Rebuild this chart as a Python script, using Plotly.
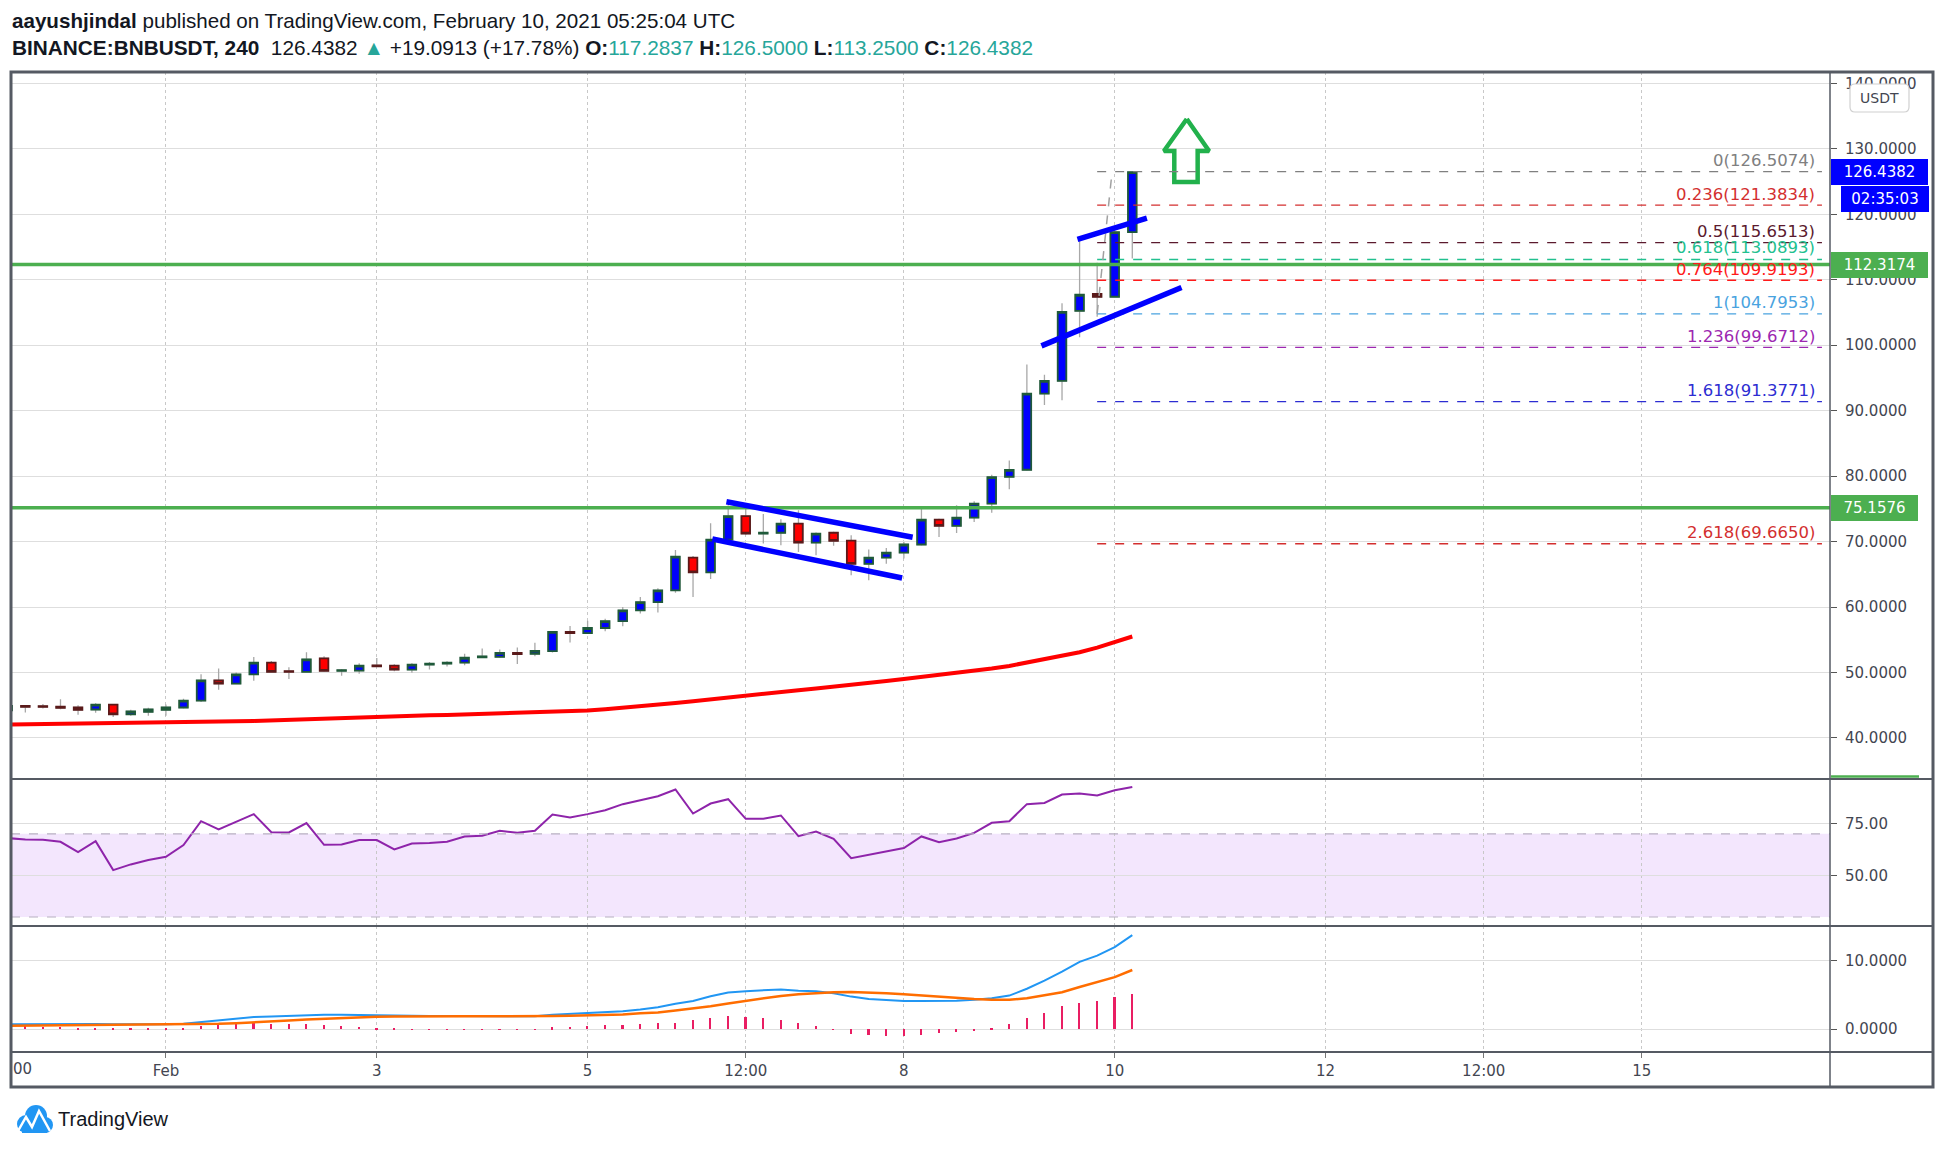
import pandas as pd
import plotly.graph_objects as go

# ---------------- data ----------------
START = pd.Timestamp("2021-01-30 12:00")   # first 4h bar
BAR_HOURS = 4

open_ = [44.2, 44.9, 44.85, 44.8, 44.65, 44.35, 45.1, 43.6, 44.0, 44.3,
         44.65, 45.7, 48.8, 48.3, 49.7, 51.5, 50.2, 50.1, 52.15, 50.25,
         50.3, 51.1, 51.05, 50.45, 51.2, 51.35, 51.5, 52.3, 52.4, 53.0,
         52.85, 53.25, 56.2, 56.0, 56.8, 57.85, 59.5, 60.75, 62.55, 67.55,
         65.3, 70.3, 73.9, 71.2, 71.35, 72.75, 69.85, 71.35, 70.15, 66.6,
         67.55, 68.3, 69.55, 73.35, 72.4, 73.65, 75.8, 79.9, 80.97, 92.6,
         94.55, 105.25, 107.85, 107.4, 117.2837]
high_ = [45.2, 45.0, 45.2, 45.9, 45.0, 45.3, 45.2, 44.3, 44.6, 45.1,
         46.0, 49.75, 50.6, 50.0, 52.35, 51.75, 50.8, 53.1, 52.5, 50.55,
         51.4, 52.2, 51.25, 51.4, 51.6, 51.7, 52.85, 53.65, 53.5, 53.8,
         54.55, 56.3, 57.1, 57.9, 58.2, 60.0, 61.55, 62.85, 68.7, 67.8,
         72.8, 75.55, 75.3, 74.2, 73.4, 74.8, 71.4, 71.5, 70.95, 68.8,
         69.0, 69.95, 75.05, 73.5, 75.55, 76.15, 80.2, 82.4, 97.05, 95.5,
         106.4, 116.25, 112.6, 117.5, 126.5]
low_ = [43.8, 43.9, 44.5, 44.4, 43.55, 43.85, 43.2, 43.4, 43.4, 43.4,
        44.5, 45.5, 47.35, 48.2, 48.75, 50.0, 49.0, 50.0, 50.1, 49.5,
        49.8, 50.9, 50.2, 49.95, 50.45, 50.9, 51.1, 52.2, 52.25, 51.3,
        52.5, 53.05, 54.6, 55.9, 56.3, 57.05, 59.0, 59.15, 62.2, 61.55,
        64.3, 70.1, 71.0, 69.7, 69.45, 68.4, 67.9, 69.35, 64.85, 64.1,
        66.6, 67.4, 69.4, 70.7, 71.3, 73.0, 74.4, 78.0, 80.8, 90.85,
        91.6, 101.2, 104.35, 107.3, 113.25]
close_ = [44.9, 44.75, 44.75, 44.6, 44.3, 45.1, 43.6, 44.05, 44.35, 44.65,
          45.7, 48.8, 48.3, 49.7, 51.5, 50.1, 50.1, 52.0, 50.25, 50.35,
          51.05, 50.95, 50.45, 51.2, 51.35, 51.5, 52.25, 52.45, 53.0, 52.8,
          53.3, 56.2, 56.0, 56.8, 57.85, 59.5, 60.75, 62.55, 67.7, 65.3,
          70.3, 73.9, 71.2, 71.35, 72.75, 69.85, 71.2, 70.1, 66.6, 67.55,
          68.3, 69.55, 73.35, 72.4, 73.65, 75.8, 79.85, 80.95, 92.6, 94.55,
          105.1, 107.7, 107.4, 117.2837, 126.4382]
ma = [42.05, 42.08, 42.10, 42.12, 42.15, 42.18, 42.20, 42.25, 42.30, 42.35,
      42.40, 42.45, 42.50, 42.55, 42.60, 42.70, 42.75, 42.85, 42.90, 43.00,
      43.10, 43.20, 43.30, 43.35, 43.45, 43.50, 43.60, 43.65, 43.70, 43.78,
      43.85, 43.95, 44.05, 44.20, 44.40, 44.60, 44.85, 45.10, 45.35, 45.60,
      45.90, 46.20, 46.50, 46.80, 47.05, 47.30, 47.55, 47.80, 48.10, 48.40,
      48.70, 49.00, 49.30, 49.60, 49.90, 50.25, 50.60, 51.00, 51.50, 52.00,
      52.50, 53.10, 53.80, 54.60, 55.50]
rsi = [67.95, 67.3, 67.15, 66.2, 61.2, 66.5, 52.55, 55.3, 57.4, 59.0,
       64.6, 76.1, 72.1, 75.8, 79.5, 70.8, 70.7, 75.2, 64.75, 64.9,
       67.0, 67.0, 62.5, 65.4, 65.55, 66.2, 68.75, 69.1, 71.5, 70.5,
       71.5, 79.3, 77.9, 79.5, 81.4, 84.3, 86.2, 88.1, 91.35, 79.8,
       84.6, 86.7, 77.25, 77.25, 78.85, 68.9, 71.15, 67.6, 58.3, 59.9,
       61.2, 63.15, 68.75, 66.0, 67.8, 70.5, 75.3, 76.1, 84.3, 84.9,
       88.9, 89.4, 88.5, 91.0, 92.6]
macd = [0.70, 0.72, 0.74, 0.76, 0.76, 0.75, 0.70, 0.68, 0.68, 0.70,
        0.76, 0.98, 1.20, 1.45, 1.75, 1.85, 1.95, 2.10, 2.10, 2.08,
        2.07, 2.05, 2.00, 1.95, 1.92, 1.90, 1.88, 1.87, 1.86, 1.85,
        1.88, 2.10, 2.20, 2.35, 2.45, 2.60, 2.85, 3.20, 3.70, 4.10,
        4.80, 5.35, 5.55, 5.70, 5.80, 5.60, 5.55, 5.25, 4.75, 4.40,
        4.20, 4.10, 4.10, 4.08, 4.15, 4.30, 4.50, 4.90, 5.90, 7.10,
        8.40, 9.85, 10.75, 12.00, 13.76]
signal = [0.48, 0.50, 0.52, 0.54, 0.56, 0.58, 0.60, 0.60, 0.61, 0.62,
          0.63, 0.68, 0.76, 0.85, 0.95, 1.10, 1.25, 1.40, 1.52, 1.63,
          1.73, 1.80, 1.85, 1.88, 1.89, 1.89, 1.88, 1.87, 1.86, 1.86,
          1.86, 1.90, 1.95, 2.00, 2.05, 2.12, 2.30, 2.43, 2.70, 3.00,
          3.35, 3.75, 4.15, 4.55, 4.85, 5.10, 5.25, 5.40, 5.42, 5.38,
          5.25, 5.10, 4.90, 4.72, 4.55, 4.40, 4.30, 4.30, 4.50, 4.90,
          5.40, 6.15, 6.90, 7.60, 8.65]
hist = [0.30, 0.40, 0.30, 0.30, 0.15, 0.10, 0.05, 0.03, 0.02, 0.05,
        0.15, 0.38, 0.52, 0.70, 0.86, 0.80, 0.76, 0.76, 0.60, 0.48,
        0.33, 0.20, 0.05, -0.05, -0.10, -0.12, -0.14, -0.14, -0.12, -0.10,
        -0.05, 0.29, 0.35, 0.42, 0.52, 0.62, 0.76, 0.90, 0.95, 1.33,
        1.67, 1.90, 1.81, 1.55, 1.33, 0.95, 0.50, -0.10, -0.67, -0.95,
        -1.05, -1.00, -0.86, -0.62, -0.48, -0.19, 0.20, 0.76, 1.67, 2.38,
        3.33, 3.75, 4.10, 4.62, 5.14]

FIB_RATIOS = ["0", "0.236", "0.5", "0.618", "0.764", "1", "1.236", "1.618", "2.618"]
FIB_PRICES = [126.5074, 121.3834, 115.6513, 113.0893, 109.9193, 104.7953, 99.6712, 91.3771, 69.6650]
FIB_COLORS = ["#808080", "#d32f2f", "#5b1a2e", "#22c08f", "#ff1a1a", "#4aa3df", "#9c27b0", "#2d2dd2", "#d32f2f"]
FIB_START_BAR = 62
FIB_DIAG = [(62, 104.7953), (62.85, 126.5074)]

H_LEVELS = [112.3174, 75.1576]
LAST_PRICE = 126.4382
COUNTDOWN = "02:35:03"

# hand-drawn trend lines: (bar index, price) pairs
TRENDLINES = [
    [(40.9, 76.09), (51.5, 70.65)],
    [(40.1, 70.39), (50.9, 64.43)],
    [(58.83, 99.89), (66.8, 108.8)],
    [(60.88, 116.17), (64.83, 119.4)],
]
ARROW = [(67.1, 134.55), (68.37, 129.66), (67.72, 129.66), (67.72, 124.93),
         (66.39, 124.93), (66.39, 129.66), (65.8, 129.66), (67.1, 134.55)]

X_TICK_TIMES = ["2021-01-30 12:00", "2021-02-01", "2021-02-03", "2021-02-05", "2021-02-06 12:00",
                "2021-02-08", "2021-02-10", "2021-02-12", "2021-02-13 12:00", "2021-02-15"]
X_TICK_TEXT = ["12:00", "Feb", "3", "5", "12:00", "8", "10", "12", "12:00", "15"]
X_RANGE = ["2021-01-30 12:44", "2021-02-16 18:50"]

# ---------------- helpers ----------------
def t(i):
    return START + pd.Timedelta(hours=BAR_HOURS * i)

times = [t(k) for k in range(len(close_))]

def px(x):
    return (x - 11) / 1819.0

def py(y):
    return (1052 - y) / 980.0

AXFONT = dict(family="DejaVu Sans", size=15, color="#434651")
UP_FILL, DOWN_FILL = "#0000ff", "#ff0000"
UP_LINE, DOWN_LINE = "#1f5a3a", "#5a1a1a"
WICK = "#a8a8a8"
BORDER = "#555a63"

fig = go.Figure()

# wicks
fig.add_trace(go.Candlestick(
    x=times, open=open_, high=high_, low=low_, close=close_,
    increasing=dict(line=dict(color=WICK, width=1.3), fillcolor=UP_FILL),
    decreasing=dict(line=dict(color=WICK, width=1.3), fillcolor=DOWN_FILL),
    xaxis="x", yaxis="y", showlegend=False, hoverinfo="skip"))
# bodies
body_hi = [max(o, c) for o, c in zip(open_, close_)]
body_lo = [min(o, c) for o, c in zip(open_, close_)]
fig.add_trace(go.Candlestick(
    x=times, open=open_, high=body_hi, low=body_lo, close=close_,
    increasing=dict(line=dict(color=UP_LINE, width=1.8), fillcolor=UP_FILL),
    decreasing=dict(line=dict(color=DOWN_LINE, width=1.8), fillcolor=DOWN_FILL),
    xaxis="x", yaxis="y", showlegend=False, hoverinfo="skip"))

fig.add_trace(go.Scatter(x=times, y=ma, mode="lines", line=dict(color="#ff0000", width=4),
                         xaxis="x", yaxis="y", showlegend=False, hoverinfo="skip"))

fig.add_trace(go.Scatter(x=[t(a) for a, _ in ARROW], y=[b for _, b in ARROW], mode="lines",
                         line=dict(color="#22b14c", width=4.5), xaxis="x", yaxis="y",
                         showlegend=False, hoverinfo="skip"))

fig.add_trace(go.Scatter(x=times, y=rsi, mode="lines", line=dict(color="#8e24aa", width=2),
                         xaxis="x2", yaxis="y2", showlegend=False, hoverinfo="skip"))

fig.add_trace(go.Bar(x=times, y=hist, marker=dict(color="#e91e63", line=dict(width=0)),
                     width=1.3e6, xaxis="x3", yaxis="y3", showlegend=False, hoverinfo="skip"))
fig.add_trace(go.Scatter(x=times, y=macd, mode="lines", line=dict(color="#2196f3", width=2),
                         xaxis="x3", yaxis="y3", showlegend=False, hoverinfo="skip"))
fig.add_trace(go.Scatter(x=times, y=signal, mode="lines", line=dict(color="#ff6d00", width=2.5),
                         xaxis="x3", yaxis="y3", showlegend=False, hoverinfo="skip"))

shapes = []
# RSI band
shapes.append(dict(type="rect", xref="paper", yref="y2", x0=0, x1=1, y0=30, y1=70,
                   fillcolor="#f3e6fd", line=dict(width=0), layer="below"))
for lv in (70, 30):
    shapes.append(dict(type="line", xref="paper", yref="y2", x0=0, x1=1, y0=lv, y1=lv,
                       line=dict(color="#b8b0c2", width=1.2, dash="dash")))
# fib levels
fib_end = "2021-02-16 17:00"
for price, col in zip(FIB_PRICES, FIB_COLORS):
    shapes.append(dict(type="line", xref="x", yref="y", x0=t(FIB_START_BAR), x1=fib_end,
                       y0=price, y1=price, line=dict(color=col, width=1.3, dash="dash")))
shapes.append(dict(type="line", xref="x", yref="y", x0=t(FIB_DIAG[0][0]), y0=FIB_DIAG[0][1],
                   x1=t(FIB_DIAG[1][0]), y1=FIB_DIAG[1][1],
                   line=dict(color="#a0a0a0", width=1.5, dash="dash")))
# green horizontal levels
for lv in H_LEVELS:
    shapes.append(dict(type="line", xref="paper", yref="y", x0=0, x1=1, y0=lv, y1=lv,
                       line=dict(color="#4caf50", width=3.5)))
# trend lines
for (a0, p0), (a1, p1) in TRENDLINES:
    shapes.append(dict(type="line", xref="x", yref="y", x0=t(a0), y0=p0, x1=t(a1), y1=p1,
                       line=dict(color="#0000ff", width=5.5)))
# frame
shapes.append(dict(type="rect", xref="paper", yref="paper", x0=px(11), x1=px(1933),
                   y0=py(1087), y1=py(72), line=dict(color=BORDER, width=3)))
for yy in (779, 926, 1052):
    shapes.append(dict(type="line", xref="paper", yref="paper", x0=px(11), x1=px(1933),
                       y0=py(yy), y1=py(yy), line=dict(color=BORDER, width=2)))
shapes.append(dict(type="line", xref="paper", yref="paper", x0=px(1830), x1=px(1830),
                   y0=py(1087), y1=py(72), line=dict(color=BORDER, width=1.5)))
shapes.append(dict(type="line", xref="paper", yref="paper", x0=px(1831), x1=px(1919),
                   y0=py(776.5), y1=py(776.5), line=dict(color="#4caf50", width=2.5)))


def rounded_rect(x0, y0, x1, y1, r):
    pts = [
        f"M {px(x0 + r):.5f},{py(y0):.5f}",
        f"L {px(x1 - r):.5f},{py(y0):.5f}",
        f"Q {px(x1):.5f},{py(y0):.5f} {px(x1):.5f},{py(y0 + r):.5f}",
        f"L {px(x1):.5f},{py(y1 - r):.5f}",
        f"Q {px(x1):.5f},{py(y1):.5f} {px(x1 - r):.5f},{py(y1):.5f}",
        f"L {px(x0 + r):.5f},{py(y1):.5f}",
        f"Q {px(x0):.5f},{py(y1):.5f} {px(x0):.5f},{py(y1 - r):.5f}",
        f"L {px(x0):.5f},{py(y0 + r):.5f}",
        f"Q {px(x0):.5f},{py(y0):.5f} {px(x0 + r):.5f},{py(y0):.5f}",
        "Z",
    ]
    return " ".join(pts)


# TradingView logo icon
for (cx, cy, r) in [(26, 1124, 9), (36, 1116, 11), (45, 1125, 8)]:
    shapes.append(dict(type="circle", xref="paper", yref="paper", x0=px(cx - r), x1=px(cx + r),
                       y0=py(cy + r), y1=py(cy - r), fillcolor="#2196f3", line=dict(width=0)))
shapes.append(dict(type="rect", xref="paper", yref="paper", x0=px(22), x1=px(47),
                   y0=py(1133), y1=py(1120), fillcolor="#2196f3", line=dict(width=0)))
zig = [(18, 1131), (26, 1117), (32, 1127), (39, 1111), (50, 1131)]
path = "M " + " L ".join(f"{px(a):.5f},{py(b):.5f}" for a, b in zig)
shapes.append(dict(type="path", xref="paper", yref="paper", path=path,
                   line=dict(color="white", width=2.5)))

annotations = []
HDR = "Liberation Sans"
TEAL = "#26a69a"
annotations.append(dict(xref="paper", yref="paper", x=px(10), y=py(21), xanchor="left", yanchor="middle",
                        showarrow=False, font=dict(family=HDR, size=20.6, color="#131722"),
                        text="<b>aayushjindal</b> published on TradingView.com, February 10, 2021 05:25:04 UTC"))
line2 = ("<b>BINANCE:BNBUSDT, 240</b>&nbsp; 126.4382 "
         f"<span style='color:{TEAL}'>▲</span> +19.0913 (+17.78%) "
         f"<b>O:</b><span style='color:{TEAL}'>117.2837</span> "
         f"<b>H:</b><span style='color:{TEAL}'>126.5000</span> "
         f"<b>L:</b><span style='color:{TEAL}'>113.2500</span> "
         f"<b>C:</b><span style='color:{TEAL}'>126.4382</span>")
annotations.append(dict(xref="paper", yref="paper", x=px(10), y=py(48), xanchor="left", yanchor="middle",
                        showarrow=False, font=dict(family=HDR, size=20.8, color="#131722"), text=line2))
# fib labels (text sits just above each dashed level)
for ratio, price, col in zip(FIB_RATIOS, FIB_PRICES, FIB_COLORS):
    annotations.append(dict(xref="paper", yref="y", x=px(1816), y=price, xanchor="right", yanchor="middle",
                            yshift=11 if ratio != "0.618" else 12,
                            showarrow=False, borderpad=0,
                            font=dict(family="DejaVu Sans", size=16.5, color=col),
                            text=f"{ratio}({price:.4f})"))
# axis price labels
LBL = dict(family="DejaVu Sans", size=15, color="white")
annotations.append(dict(xref="paper", yref="y", x=px(1831), y=LAST_PRICE, xanchor="left", yanchor="middle",
                        showarrow=False, bgcolor="#0000ff", font=LBL, text=f"{LAST_PRICE:.4f}",
                        width=91, height=20, borderpad=3, borderwidth=0))
annotations.append(dict(xref="paper", yref="y", x=px(1841), y=LAST_PRICE, yshift=-27, xanchor="left",
                        yanchor="middle", showarrow=False, bgcolor="#0000ff", font=LBL, text=COUNTDOWN,
                        width=82, height=20, borderpad=3, borderwidth=0))
for lv in H_LEVELS:
    txt = f"{lv:.4f}"
    annotations.append(dict(xref="paper", yref="y", x=px(1831), y=lv, xanchor="left", yanchor="middle",
                            showarrow=False, bgcolor="#4caf50", font=LBL, text=txt,
                            width=(91 if len(txt) > 7 else 81), height=20, borderpad=3, borderwidth=0))
# USDT badge
shapes.append(dict(type="path", xref="paper", yref="paper", path=rounded_rect(1850, 84, 1909, 112, 5),
                   fillcolor="white", line=dict(color="#d0d0d0", width=1.2)))
annotations.append(dict(xref="paper", yref="paper", x=px(1879.5), y=py(98), xanchor="center", yanchor="middle",
                        showarrow=False, font=dict(family="DejaVu Sans", size=14, color="#434651"),
                        text="USDT"))
annotations.append(dict(xref="paper", yref="paper", x=px(11), y=py(1069), xanchor="left", yanchor="middle",
                        showarrow=False, font=AXFONT, text="00"))
annotations.append(dict(xref="paper", yref="paper", x=px(56), y=py(1119), xanchor="left", yanchor="middle",
                        showarrow=False, font=dict(family="Liberation Sans", size=20, color="#131722"),
                        text="TradingView"))

common_x = dict(range=X_RANGE, type="date", tickvals=X_TICK_TIMES, ticktext=X_TICK_TEXT,
                showgrid=True, gridcolor="#c8c8c8", griddash="dot", gridwidth=1,
                zeroline=False, showline=False, fixedrange=True)
common_y = dict(side="right", showgrid=True, gridcolor="#dedede", gridwidth=1, zeroline=False,
                showline=False, ticks="outside", ticklen=6, tickcolor="#555", tickwidth=1,
                tickfont=AXFONT, ticklabelstandoff=5, fixedrange=True)

fig.update_layout(
    width=1944, height=1149,
    margin=dict(l=11, r=114, t=72, b=97),
    paper_bgcolor="white", plot_bgcolor="rgba(0,0,0,0)",
    showlegend=False, bargap=0,
    xaxis=dict(**common_x, anchor="y", domain=[0, 1], showticklabels=False, ticks="",
               rangeslider=dict(visible=False)),
    xaxis2=dict(**common_x, anchor="y2", domain=[0, 1], showticklabels=False, ticks=""),
    xaxis3=dict(**common_x, anchor="y3", domain=[0, 1], showticklabels=True, ticks="outside",
                ticklen=5, tickcolor="#777", tickfont=AXFONT),
    yaxis=dict(**common_y, anchor="x", domain=[py(779), 1], range=[33.73, 141.73],
               tick0=0, dtick=10, tickformat=".4f"),
    yaxis2=dict(**common_y, anchor="x2", domain=[py(926), py(779)], range=[25.67, 96.4],
                tickvals=[50, 75], tickformat=".2f"),
    yaxis3=dict(**common_y, anchor="x3", domain=[0, py(926)], range=[-3.37, 15.1],
                tickvals=[0, 10], tickformat=".4f"),
    shapes=shapes, annotations=annotations,
)

fig.write_html("out.html", config={"displayModeBar": False},
               post_script="document.body.style.margin='0';document.body.style.overflow='hidden';")
